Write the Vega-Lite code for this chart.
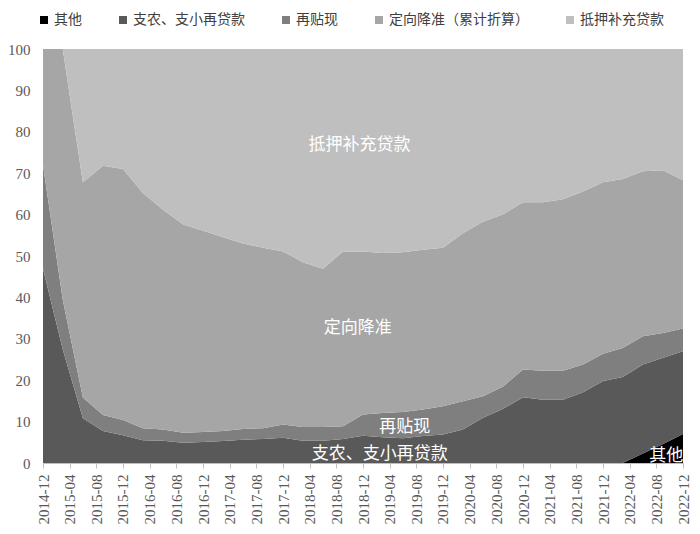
{
  "$schema": "https://vega.github.io/schema/vega-lite/v6.json",
  "width": 640,
  "height": 414,
  "autosize": {"type": "none"},
  "padding": {"left": 43, "top": 49, "right": 17, "bottom": 71},
  "background": "white",
  "config": {"view": {"stroke": null}, "axisX": {"labelOverlap": false}},
  "datasets": {
    "share": [
      {"date": "2014-12-01", "其他": 0, "支农、支小再贷款": 46.9, "再贴现": 25.1, "定向降准（累计折算）": 28.0, "抵押补充贷款": 0},
      {"date": "2015-03-01", "其他": 0, "支农、支小再贷款": 27.5, "再贴现": 12.0, "定向降准（累计折算）": 60.5, "抵押补充贷款": 0},
      {"date": "2015-06-01", "其他": 0, "支农、支小再贷款": 10.8, "再贴现": 5.0, "定向降准（累计折算）": 52.0, "抵押补充贷款": 32.2},
      {"date": "2015-09-01", "其他": 0, "支农、支小再贷款": 7.7, "再贴现": 3.9, "定向降准（累计折算）": 60.2, "抵押补充贷款": 28.2},
      {"date": "2015-12-01", "其他": 0, "支农、支小再贷款": 6.7, "再贴现": 3.7, "定向降准（累计折算）": 60.6, "抵押补充贷款": 29.0},
      {"date": "2016-03-01", "其他": 0, "支农、支小再贷款": 5.5, "再贴现": 2.9, "定向降准（累计折算）": 56.8, "抵押补充贷款": 34.8},
      {"date": "2016-06-01", "其他": 0, "支农、支小再贷款": 5.4, "再贴现": 2.7, "定向降准（累计折算）": 53.1, "抵押补充贷款": 38.8},
      {"date": "2016-09-01", "其他": 0, "支农、支小再贷款": 4.9, "再贴现": 2.4, "定向降准（累计折算）": 50.3, "抵押补充贷款": 42.4},
      {"date": "2016-12-01", "其他": 0, "支农、支小再贷款": 5.1, "再贴现": 2.4, "定向降准（累计折算）": 48.6, "抵押补充贷款": 43.9},
      {"date": "2017-03-01", "其他": 0, "支农、支小再贷款": 5.3, "再贴现": 2.4, "定向降准（累计折算）": 46.9, "抵押补充贷款": 45.4},
      {"date": "2017-06-01", "其他": 0, "支农、支小再贷款": 5.6, "再贴现": 2.6, "定向降准（累计折算）": 44.8, "抵押补充贷款": 47.0},
      {"date": "2017-09-01", "其他": 0, "支农、支小再贷款": 5.8, "再贴现": 2.6, "定向降准（累计折算）": 43.6, "抵押补充贷款": 48.0},
      {"date": "2017-12-01", "其他": 0, "支农、支小再贷款": 6.1, "再贴现": 3.2, "定向降准（累计折算）": 41.8, "抵押补充贷款": 48.9},
      {"date": "2018-03-01", "其他": 0, "支农、支小再贷款": 5.4, "再贴现": 3.3, "定向降准（累计折算）": 39.8, "抵押补充贷款": 51.5},
      {"date": "2018-06-01", "其他": 0, "支农、支小再贷款": 5.4, "再贴现": 3.3, "定向降准（累计折算）": 38.2, "抵押补充贷款": 53.1},
      {"date": "2018-09-01", "其他": 0, "支农、支小再贷款": 5.8, "再贴现": 3.1, "定向降准（累计折算）": 42.2, "抵押补充贷款": 48.9},
      {"date": "2018-12-01", "其他": 0, "支农、支小再贷款": 6.6, "再贴现": 5.1, "定向降准（累计折算）": 39.4, "抵押补充贷款": 48.9},
      {"date": "2019-03-01", "其他": 0, "支农、支小再贷款": 6.2, "再贴现": 5.9, "定向降准（累计折算）": 38.6, "抵押补充贷款": 49.3},
      {"date": "2019-06-01", "其他": 0, "支农、支小再贷款": 6.0, "再贴现": 6.3, "定向降准（累计折算）": 38.6, "抵押补充贷款": 49.1},
      {"date": "2019-09-01", "其他": 0, "支农、支小再贷款": 6.5, "再贴现": 6.4, "定向降准（累计折算）": 38.6, "抵押补充贷款": 48.5},
      {"date": "2019-12-01", "其他": 0, "支农、支小再贷款": 6.9, "再贴现": 6.8, "定向降准（累计折算）": 38.3, "抵押补充贷款": 48.0},
      {"date": "2020-03-01", "其他": 0, "支农、支小再贷款": 8.1, "再贴现": 6.8, "定向降准（累计折算）": 40.6, "抵押补充贷款": 44.5},
      {"date": "2020-06-01", "其他": 0, "支农、支小再贷款": 10.9, "再贴现": 5.2, "定向降准（累计折算）": 42.2, "抵押补充贷款": 41.7},
      {"date": "2020-09-01", "其他": 0, "支农、支小再贷款": 13.1, "再贴现": 5.4, "定向降准（累计折算）": 41.6, "抵押补充贷款": 39.9},
      {"date": "2020-12-01", "其他": 0, "支农、支小再贷款": 15.9, "再贴现": 6.7, "定向降准（累计折算）": 40.4, "抵押补充贷款": 37.0},
      {"date": "2021-03-01", "其他": 0, "支农、支小再贷款": 15.3, "再贴现": 7.0, "定向降准（累计折算）": 40.7, "抵押补充贷款": 37.0},
      {"date": "2021-06-01", "其他": 0, "支农、支小再贷款": 15.3, "再贴现": 7.0, "定向降准（累计折算）": 41.4, "抵押补充贷款": 36.3},
      {"date": "2021-09-01", "其他": 0, "支农、支小再贷款": 17.1, "再贴现": 6.7, "定向降准（累计折算）": 41.8, "抵押补充贷款": 34.4},
      {"date": "2021-12-01", "其他": 0, "支农、支小再贷款": 19.8, "再贴现": 6.6, "定向降准（累计折算）": 41.4, "抵押补充贷款": 32.2},
      {"date": "2022-03-01", "其他": 0, "支农、支小再贷款": 20.8, "再贴现": 7.0, "定向降准（累计折算）": 40.8, "抵押补充贷款": 31.4},
      {"date": "2022-06-01", "其他": 2.3, "支农、支小再贷款": 21.5, "再贴现": 6.8, "定向降准（累计折算）": 39.9, "抵押补充贷款": 29.5},
      {"date": "2022-09-01", "其他": 4.6, "支农、支小再贷款": 20.8, "再贴现": 6.0, "定向降准（累计折算）": 39.3, "抵押补充贷款": 29.3},
      {"date": "2022-12-01", "其他": 7.0, "支农、支小再贷款": 20.0, "再贴现": 5.5, "定向降准（累计折算）": 35.8, "抵押补充贷款": 31.7}
    ],
    "labels": [
      {"label": "抵押补充贷款", "date": "2018-11-15", "v": 76.9},
      {"label": "定向降准", "date": "2018-11-07", "v": 32.7},
      {"label": "再贴现", "date": "2019-06-10", "v": 8.8},
      {"label": "支农、支小再贷款", "date": "2019-02-15", "v": 2.1},
      {"label": "其他", "date": "2022-09-15", "v": 1.8}
    ]
  },
  "layer": [
    {
      "data": {"name": "share"},
      "transform": [
        {"fold": ["其他", "支农、支小再贷款", "再贴现", "定向降准（累计折算）", "抵押补充贷款"], "as": ["series", "value"]},
        {"calculate": "indexof(['其他', '支农、支小再贷款', '再贴现', '定向降准（累计折算）', '抵押补充贷款'], datum.series)", "as": "ord"}
      ],
      "mark": {"type": "area", "interpolate": "linear"},
      "encoding": {
        "x": {
          "field": "date",
          "type": "temporal",
          "scale": {
            "type": "utc",
            "nice": false,
            "domain": [
              {"year": 2014, "month": 12, "date": 1, "utc": true},
              {"year": 2022, "month": 12, "date": 1, "utc": true}
            ]
          },
          "axis": {
            "title": null,
            "grid": false,
            "format": "%Y-%m",
            "tickCount": 30,
            "values": [
              {"year": 2014, "month": 12, "date": 1, "utc": true},
              {"year": 2015, "month": 4, "date": 1, "utc": true},
              {"year": 2015, "month": 8, "date": 1, "utc": true},
              {"year": 2015, "month": 12, "date": 1, "utc": true},
              {"year": 2016, "month": 4, "date": 1, "utc": true},
              {"year": 2016, "month": 8, "date": 1, "utc": true},
              {"year": 2016, "month": 12, "date": 1, "utc": true},
              {"year": 2017, "month": 4, "date": 1, "utc": true},
              {"year": 2017, "month": 8, "date": 1, "utc": true},
              {"year": 2017, "month": 12, "date": 1, "utc": true},
              {"year": 2018, "month": 4, "date": 1, "utc": true},
              {"year": 2018, "month": 8, "date": 1, "utc": true},
              {"year": 2018, "month": 12, "date": 1, "utc": true},
              {"year": 2019, "month": 4, "date": 1, "utc": true},
              {"year": 2019, "month": 8, "date": 1, "utc": true},
              {"year": 2019, "month": 12, "date": 1, "utc": true},
              {"year": 2020, "month": 4, "date": 1, "utc": true},
              {"year": 2020, "month": 8, "date": 1, "utc": true},
              {"year": 2020, "month": 12, "date": 1, "utc": true},
              {"year": 2021, "month": 4, "date": 1, "utc": true},
              {"year": 2021, "month": 8, "date": 1, "utc": true},
              {"year": 2021, "month": 12, "date": 1, "utc": true},
              {"year": 2022, "month": 4, "date": 1, "utc": true},
              {"year": 2022, "month": 8, "date": 1, "utc": true},
              {"year": 2022, "month": 12, "date": 1, "utc": true}
            ],
            "labelAngle": -90,
            "labelFont": "Liberation Serif",
            "labelFontSize": 15,
            "labelColor": "#595959",
            "labelPadding": 6,
            "labelOverlap": false,
            "labelFlush": false,
            "labelBound": false,
            "tickColor": "#bfbfbf",
            "tickSize": 5,
            "domainColor": "#bfbfbf"
          }
        },
        "y": {
          "field": "value",
          "type": "quantitative",
          "stack": "zero",
          "scale": {"domain": [0, 100], "nice": false},
          "axis": {
            "title": null,
            "grid": false,
            "domain": false,
            "ticks": false,
            "tickCount": 11,
            "values": [0, 10, 20, 30, 40, 50, 60, 70, 80, 90, 100],
            "labelFont": "Liberation Serif",
            "labelFontSize": 15,
            "labelColor": "#595959",
            "labelPadding": 13
          }
        },
        "order": {"field": "ord", "type": "quantitative", "sort": "ascending"},
        "color": {
          "field": "series",
          "type": "nominal",
          "sort": ["其他", "支农、支小再贷款", "再贴现", "定向降准（累计折算）", "抵押补充贷款"],
          "scale": {
            "domain": ["其他", "支农、支小再贷款", "再贴现", "定向降准（累计折算）", "抵押补充贷款"],
            "range": ["#000000", "#595959", "#7f7f7f", "#a6a6a6", "#bfbfbf"]
          },
          "legend": {
            "orient": "none",
            "legendX": -6,
            "legendY": -36,
            "direction": "horizontal",
            "title": null,
            "symbolType": "square",
            "symbolSize": 64,
            "symbolStrokeWidth": 0,
            "labelFont": "Noto Sans CJK SC",
            "labelFontSize": 14,
            "labelColor": "#404040",
            "columnPadding": 34,
            "labelOffset": 3,
            "padding": 0
          }
        }
      }
    },
    {
      "data": {"name": "labels"},
      "mark": {"type": "text", "font": "Noto Sans CJK SC", "fontSize": 17, "color": "white", "align": "center", "baseline": "middle"},
      "encoding": {
        "x": {"field": "date", "type": "temporal"},
        "y": {"field": "v", "type": "quantitative"},
        "text": {"field": "label"}
      }
    }
  ]
}
